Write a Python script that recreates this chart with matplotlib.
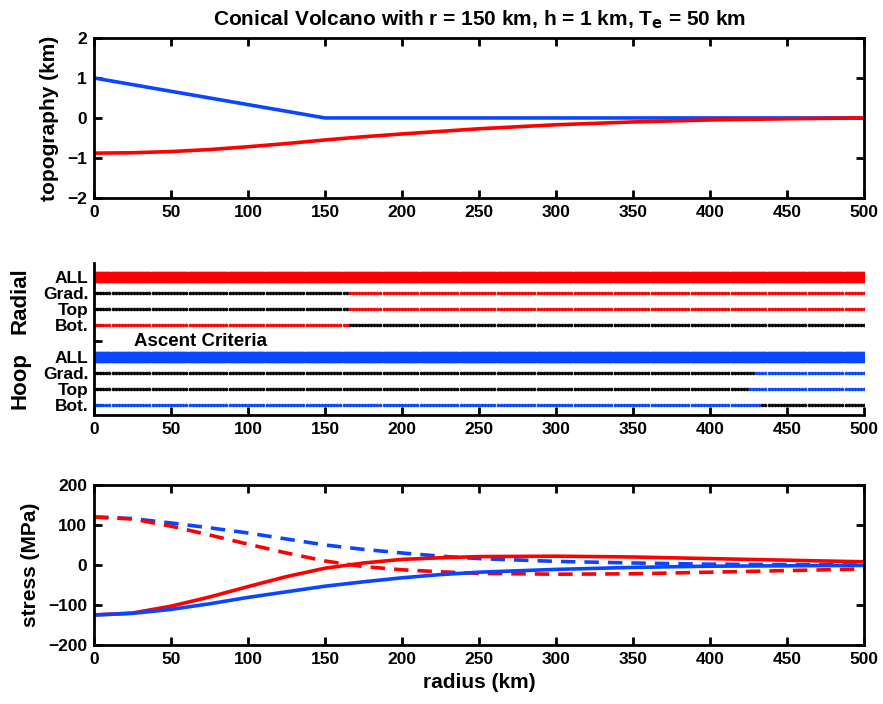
import numpy as np
import matplotlib
matplotlib.use('Agg')
import matplotlib.pyplot as plt

plt.rcParams['font.family'] = ['Liberation Sans', 'DejaVu Sans']
plt.rcParams['font.weight'] = 'bold'
plt.rcParams['axes.labelweight'] = 'bold'
plt.rcParams['mathtext.default'] = 'bf'

RED = '#ff0000'
BLUE = '#0a46ff'
TICK_FS = 12.5
LABEL_FS = 15

# topography panel
topo_r = [0, 150, 500]
topo_h = [1.0, 0.0, 0.0]
defl_r = [0, 25, 50, 75, 100, 125, 150, 175, 200, 250, 300, 350, 400, 450, 500]
defl_w = [-0.88, -0.87, -0.84, -0.79, -0.72, -0.64, -0.55, -0.47, -0.40,
          -0.27, -0.17, -0.10, -0.05, -0.02, 0.0]

# stress panel
stress_r = [0, 25, 50, 75, 100, 125, 150, 175, 200, 225, 250, 300, 350, 400, 450, 500]
hoop_top = [120, 116, 105, 93, 80, 65, 50, 39, 30, 22, 16, 9, 5, 2, 1, 0]
radial_top = [120, 115, 97, 75, 52, 30, 10, -4, -12, -17, -21, -23, -22, -18, -14, -10]
radial_bot = [-125, -120, -103, -80, -54, -29, -8, 5, 14, 18, 21, 22, 20, 16, 12, 8]
hoop_bot = [-125, -121, -111, -97, -81, -67, -53, -42, -32, -24, -18, -11, -6, -3, -2, -1]

# ascent criteria: radius where each row switches state
crit_r = np.arange(0, 501, 2)
row_labels = ['Bot.', 'Top', 'Grad.', 'ALL', '', 'Bot.', 'Top', 'Grad.', 'ALL']
row_y = [1, 2, 3, 4, 5, 6, 7, 8, 9]
radial_grad_switch = 165
radial_top_switch = 165
radial_bot_switch = 165
hoop_grad_switch = 429
hoop_top_switch = 425
hoop_bot_switch = 434


def style_box(ax):
    ax.tick_params(direction='in', length=6, width=2, top=True, right=True,
                   labelsize=TICK_FS, pad=5)
    for s in ax.spines.values():
        s.set_linewidth(2)
    for lab in ax.get_xticklabels() + ax.get_yticklabels():
        lab.set_fontweight('bold')


fig = plt.figure(figsize=(8.83, 7.04), dpi=100)
ax1 = fig.add_axes([0.1065, 0.7188, 0.872, 0.2273])
ax2 = fig.add_axes([0.1065, 0.4105, 0.872, 0.2159])
ax3 = fig.add_axes([0.1065, 0.0838, 0.872, 0.2273])

ax1.plot(topo_r, topo_h, color=BLUE, lw=2.6)
ax1.plot(defl_r, defl_w, color=RED, lw=2.6)
ax1.set_xlim(0, 500)
ax1.set_ylim(-2, 2)
ax1.set_xticks(range(0, 501, 50))
ax1.set_yticks([-2, -1, 0, 1, 2])
ax1.set_ylabel('topography (km)', fontsize=LABEL_FS, labelpad=6)
ax1.set_title(r'Conical Volcano with r = 150 km, h = 1 km, T$_\mathbf{e}$ = 50 km',
              fontsize=LABEL_FS, fontweight='bold', pad=9)
style_box(ax1)


def crit_row(ax, y, switch, before, after, ms=2.6):
    r = np.asarray(crit_r)
    m = r < switch
    ax.plot(r[m], np.full(m.sum(), y), ls='none', marker='o', ms=ms,
            color=before, mec='none')
    ax.plot(r[~m], np.full((~m).sum(), y), ls='none', marker='o', ms=ms,
            color=after, mec='none')


# radial rows
crit_row(ax2, 9, 501, RED, RED, ms=8.5)
crit_row(ax2, 8, radial_grad_switch, 'black', RED)
crit_row(ax2, 7, radial_top_switch, 'black', RED)
crit_row(ax2, 6, radial_bot_switch, RED, 'black')
# hoop rows
crit_row(ax2, 4, 501, BLUE, BLUE, ms=8.5)
crit_row(ax2, 3, hoop_grad_switch, 'black', BLUE)
crit_row(ax2, 2, hoop_top_switch, 'black', BLUE)
crit_row(ax2, 1, hoop_bot_switch, BLUE, 'black')

ax2.set_xlim(0, 500)
ax2.set_ylim(0.375, 9.875)
ax2.set_xticks(range(0, 501, 50))
ax2.set_yticks(row_y)
ax2.set_yticklabels(row_labels)
ax2.spines['top'].set_visible(False)
ax2.spines['right'].set_visible(False)
ax2.tick_params(direction='in', length=6, width=2, labelsize=TICK_FS, pad=5)
ax2.tick_params(axis='y', pad=4)
for s in ax2.spines.values():
    s.set_linewidth(2)
for lab in ax2.get_xticklabels() + ax2.get_yticklabels():
    lab.set_fontweight('bold')
ax2.text(69, 5, 'Ascent Criteria', ha='center', va='center', fontsize=13.5,
         fontweight='bold')
ax2.text(-0.096, 7.5, 'Radial', transform=ax2.get_yaxis_transform(),
         rotation=90, ha='center', va='center', fontsize=16, fontweight='bold')
ax2.text(-0.096, 2.5, 'Hoop', transform=ax2.get_yaxis_transform(),
         rotation=90, ha='center', va='center', fontsize=16, fontweight='bold')

ax3.plot(stress_r, hoop_top, color=BLUE, lw=2.6, ls=(0, (4, 2.5)))
ax3.plot(stress_r, radial_top, color=RED, lw=2.6, ls=(0, (4, 2.5)))
ax3.plot(stress_r, radial_bot, color=RED, lw=2.6)
ax3.plot(stress_r, hoop_bot, color=BLUE, lw=2.6)
ax3.set_xlim(0, 500)
ax3.set_ylim(-200, 200)
ax3.set_xticks(range(0, 501, 50))
ax3.set_yticks([-200, -100, 0, 100, 200])
ax3.set_ylabel('stress (MPa)', fontsize=LABEL_FS, labelpad=6)
ax3.set_xlabel('radius (km)', fontsize=LABEL_FS, labelpad=4)
style_box(ax3)

fig.savefig('out.png', dpi=100)
